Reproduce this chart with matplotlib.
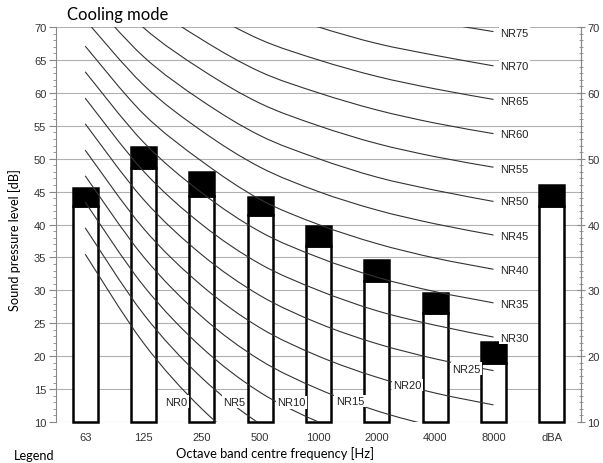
import matplotlib
matplotlib.use("Agg")
import matplotlib.pyplot as plt
from matplotlib.path import Path
from matplotlib.patches import PathPatch
from matplotlib.ticker import MultipleLocator
import numpy as np

bands = ['63', '125', '250', '500', '1000', '2000', '4000', '8000', 'dBA']
# bar levels: top of black block and top of white block
level_total = [45.6, 51.8, 48.0, 44.2, 39.8, 34.6, 29.6, 22.1, 46.0]
level_lower = [42.8, 48.6, 44.3, 41.4, 36.7, 31.4, 26.6, 18.9, 42.8]

# NR curves, 63 Hz .. 8000 Hz
nr_curves = {
    0: [35.5, 22.0, 12.0, 4.8, 0.0, -3.5, -6.1, -8.0],
    5: [39.5, 26.4, 16.7, 9.7, 5.0, 1.6, -1.0, -2.9],
    10: [43.4, 30.7, 21.3, 14.5, 10.0, 6.6, 4.2, 2.3],
    15: [47.4, 35.1, 26.0, 19.4, 15.0, 11.7, 9.3, 7.5],
    20: [51.3, 39.4, 30.7, 24.3, 20.0, 16.8, 14.4, 12.6],
    25: [55.3, 43.8, 35.4, 29.2, 25.0, 21.9, 19.6, 17.8],
    30: [59.2, 48.1, 40.0, 34.0, 30.0, 26.9, 24.7, 22.9],
    35: [63.2, 52.5, 44.8, 38.9, 35.0, 32.0, 29.8, 28.1],
    40: [67.1, 56.8, 49.6, 43.8, 40.0, 37.1, 34.9, 33.2],
    45: [71.1, 61.2, 54.2, 48.7, 45.0, 42.2, 40.1, 38.4],
    50: [75.0, 65.5, 58.8, 53.5, 50.0, 47.2, 45.2, 43.5],
    55: [79.0, 69.9, 63.5, 58.4, 55.0, 52.3, 50.3, 48.7],
    60: [82.9, 74.2, 68.1, 63.2, 60.0, 57.4, 55.4, 53.8],
    65: [86.9, 78.6, 72.8, 68.1, 65.0, 62.5, 60.6, 59.0],
    70: [90.8, 82.9, 77.4, 73.0, 70.0, 67.5, 65.7, 64.1],
    75: [94.8, 87.3, 82.1, 77.9, 75.0, 72.6, 70.8, 69.3],
}

# label positions (band index, dB) as seen on the chart
inline_labels = {0: (1.56, 13.1), 5: (2.55, 13.1), 10: (3.53, 13.0),
                 15: (4.54, 13.2), 20: (5.53, 15.6), 25: (6.53, 18.1)}
right_labels = {30: 22.75, 35: 27.9, 40: 33.1, 45: 38.2, 50: 43.5,
                55: 48.5, 60: 53.7, 65: 58.8, 70: 64.0, 75: 69.1}

tick_font = 'Liberation Sans'
text_font = 'Lato'


def smooth_path(xs, ys):
    # cubic bezier through the points (catmull-rom style)
    pts = np.column_stack([xs, ys])
    n = len(pts)
    verts = [pts[0]]
    codes = [Path.MOVETO]
    for i in range(n - 1):
        p0 = pts[max(i - 1, 0)]
        p1 = pts[i]
        p2 = pts[i + 1]
        p3 = pts[min(i + 2, n - 1)]
        c1 = p1 + (p2 - p0) / 6
        c2 = p2 - (p3 - p1) / 6
        verts += [c1, c2, p2]
        codes += [Path.CURVE4] * 3
    return Path(verts, codes)


fig = plt.figure(figsize=(6.03, 4.64), dpi=100)
ax = fig.add_axes([56 / 603, 1 - 423 / 464, 525 / 603, 395 / 464])

x = np.arange(len(bands))
total = np.array(level_total)
lower = np.array(level_lower)

ax.bar(x, lower - 10, bottom=10, width=0.43, color='white', edgecolor='black',
       linewidth=1.8, zorder=3, clip_on=False)
ax.bar(x, total - lower, bottom=lower, width=0.43, color='black', edgecolor='black',
       linewidth=1.8, zorder=3, clip_on=False)

for nr, vals in nr_curves.items():
    p = PathPatch(smooth_path(np.arange(len(vals)), vals), facecolor='none',
                  edgecolor='#333333', linewidth=0.8, zorder=4)
    ax.add_patch(p)

box = dict(facecolor='white', edgecolor='none', pad=1.0)
for nr, (lx, ly) in inline_labels.items():
    ax.text(lx, ly, 'NR%d' % nr, ha='center', va='center', fontsize=8,
            family=tick_font, color='#222222', bbox=box, zorder=5)
for nr, ly in right_labels.items():
    ax.text(7.11, ly, 'NR%d' % nr, ha='left', va='center', fontsize=8,
            family=tick_font, color='#222222', bbox=box, zorder=5)

ax.set_xlim(-0.5, 8.5)
ax.set_ylim(10, 70)
ax.set_xticks(x)
ax.set_xticklabels(bands, family=tick_font, fontsize=8, color='#333333')
ax.tick_params(axis='x', length=0, pad=7)

ax.yaxis.set_major_locator(MultipleLocator(5))
ax.yaxis.set_minor_locator(MultipleLocator(1))
ax.tick_params(axis='y', which='major', direction='out', length=5, color='#888888',
               labelsize=8, labelcolor='#333333', pad=2)
ax.tick_params(axis='y', which='minor', direction='out', length=2.5, color='#888888')
for lab in ax.get_yticklabels():
    lab.set_family(tick_font)

ax.grid(axis='y', which='major', color='#b0b0b0', linewidth=0.8, zorder=0)
ax.set_axisbelow(True)

for side in ['top', 'bottom']:
    ax.spines[side].set_visible(False)
for side in ['left', 'right']:
    ax.spines[side].set_color('#888888')
    ax.spines[side].set_linewidth(0.8)

ax2 = ax.twinx()
ax2.set_ylim(10, 70)
ax2.yaxis.set_major_locator(MultipleLocator(10))
ax2.yaxis.set_minor_locator(MultipleLocator(1))
ax2.tick_params(axis='y', which='major', direction='inout', length=6, color='#888888',
                labelsize=8, labelcolor='#333333', pad=1.5)
ax2.tick_params(axis='y', which='minor', direction='inout', length=3, color='#888888')
for lab in ax2.get_yticklabels():
    lab.set_family(tick_font)
for side in ['top', 'bottom', 'left']:
    ax2.spines[side].set_visible(False)
ax2.spines['right'].set_color('#888888')
ax2.spines['right'].set_linewidth(0.8)

fig.text(67 / 603, 1 - 15 / 464, 'Cooling mode', fontsize=12, family=text_font,
         ha='left', va='center')
fig.text(274.5 / 603, 1 - 454 / 464, 'Octave band centre frequency [Hz]', fontsize=9.3,
         family=text_font, ha='center', va='center')
fig.text(14 / 603, 1 - 456 / 464, 'Legend', fontsize=9.2, family=text_font,
         ha='left', va='center')
fig.text(15 / 603, 1 - 240 / 464, 'Sound pressure level [dB]', fontsize=9.2,
         family=text_font, rotation=90, ha='center', va='center')

fig.savefig('out.png', dpi=100)
